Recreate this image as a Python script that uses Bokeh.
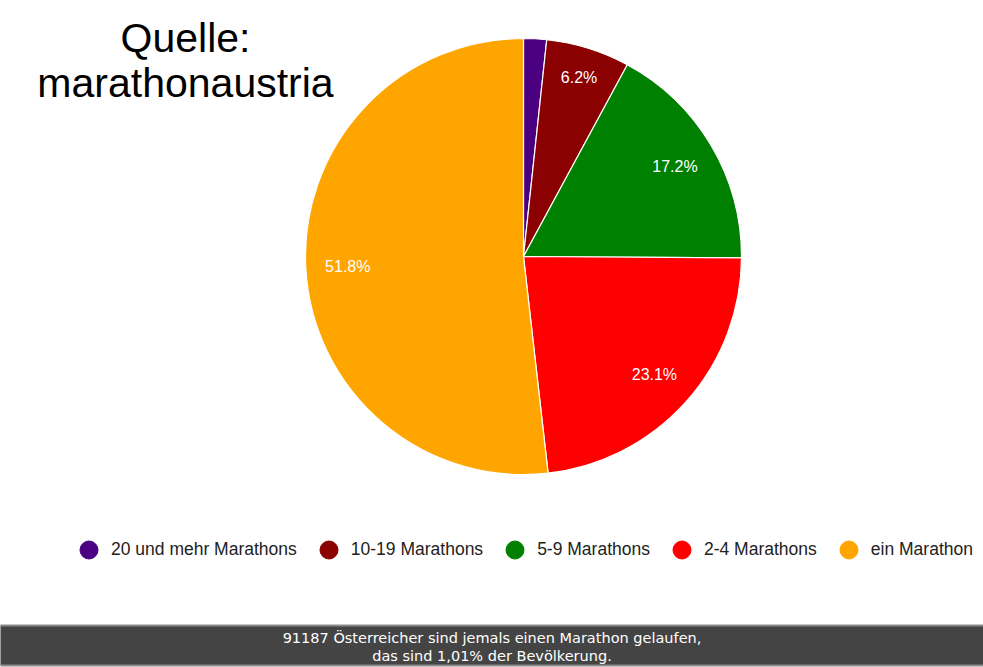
import math
from bokeh.plotting import figure
from bokeh.models import Range1d, Label, Legend, LegendItem, ColumnDataSource
from bokeh.core.properties import value
from bokeh.embed import file_html
from bokeh.resources import INLINE

# ---- data ----
categories = ["20 und mehr Marathons", "10-19 Marathons", "5-9 Marathons", "2-4 Marathons", "ein Marathon"]
shares = [1.7, 6.2, 17.2, 23.1, 51.8]
colors = ["#4b0082", "#8b0000", "#008000", "#ff0000", "#ffa500"]
title_lines = ["Quelle:", "marathonaustria"]
footer_lines = ["91187 Österreicher sind jemals einen Marathon gelaufen,",
                "das sind 1,01% der Bevölkerung."]

# ---- layout / style ----
W, H = 983, 667
CX, CY, R = 523, 411, 218
label_radius = [176, 187, 176, 176, 176]
FONT = "Liberation Sans"

p = figure(width=W, height=H, output_backend="svg", toolbar_location=None,
           x_range=Range1d(0, W), y_range=Range1d(0, H), min_border=0)
p.axis.visible = False
p.grid.visible = False
p.outline_line_color = None
p.background_fill_color = "white"

total = sum(shares)
starts, ends, mids = [], [], []
cum = 0.0
for s in shares:
    a0 = math.pi / 2 - 2 * math.pi * cum / total
    cum += s
    a1 = math.pi / 2 - 2 * math.pi * cum / total
    starts.append(a0)
    ends.append(a1)
    mids.append((a0 + a1) / 2)

src = ColumnDataSource(dict(start=starts, end=ends, color=colors, cat=categories))
p.wedge(x=CX, y=CY, radius=R, start_angle="start", end_angle="end", direction="clock",
        fill_color="color", line_color="white", line_width=1.2, source=src)

# slice labels
lx, ly, lt = [], [], []
for s, m, lr in zip(shares, mids, label_radius):
    if s / total * 100 >= 5:
        lx.append(CX + lr * math.cos(m))
        ly.append(CY + lr * math.sin(m))
        lt.append(f"{s:.1f}%")
p.text(x=lx, y=ly, text=lt, text_color="white", text_font=value(FONT),
       text_font_size="16px", text_align="center", text_baseline="middle")

# title
p.add_layout(Label(x=185, y=630, text=title_lines[0], text_font=FONT, text_font_size="41px",
                   text_align="center", text_baseline="middle", text_color="black"))
p.add_layout(Label(x=185, y=585, text=title_lines[1], text_font=FONT, text_font_size="41px",
                   text_align="center", text_baseline="middle", text_color="black"))

# legend using dummy circle renderers
nan = float("nan")
items = []
for c, col in zip(categories, colors):
    r = p.scatter(x=[nan], y=[nan], marker="circle", size=18, fill_color=col, line_color=col)
    items.append(LegendItem(label=c, renderers=[r]))
legend = Legend(items=items, orientation="horizontal", location=(66, 95),
                glyph_width=45, glyph_height=45, label_standoff=0, spacing=9,
                padding=0, margin=0, border_line_color=None, background_fill_alpha=0,
                label_text_font=FONT, label_text_font_size="17.5px", label_text_color="#222222")
p.add_layout(legend, "center")

# footer bar
p.quad(left=[-2], right=[W + 2], bottom=[2], top=[42], fill_color="#444444",
       line_color="#8a8a8a", line_width=2)
p.add_layout(Label(x=W / 2, y=30, text=footer_lines[0], text_font="DejaVu Sans",
                   text_font_size="14.5px", text_align="center", text_baseline="middle",
                   text_color="white"))
p.add_layout(Label(x=W / 2, y=12, text=footer_lines[1], text_font="DejaVu Sans",
                   text_font_size="14.5px", text_align="center", text_baseline="middle",
                   text_color="white"))

open("out.html", "w").write(file_html(p, INLINE))
